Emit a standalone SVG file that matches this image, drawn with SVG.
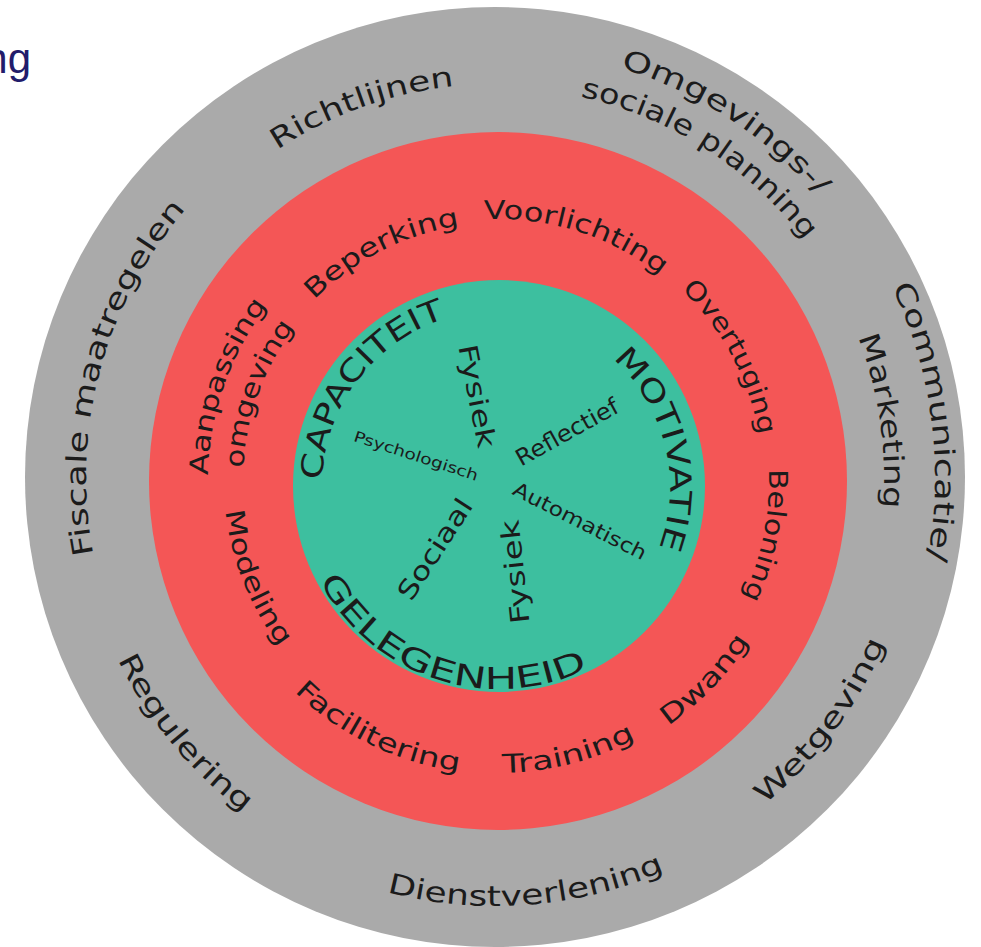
<svg xmlns="http://www.w3.org/2000/svg" width="981" height="947" viewBox="0 0 981 947">
<style>
.t{font-family:"DejaVu Sans","Liberation Sans",sans-serif;fill:#1b1b1b}
.o{font-size:28px}
.r{font-size:26px}
.g{font-size:30px}
.i{dominant-baseline:central;text-anchor:middle}
</style>
<defs>
<path id="pFis" d="M322.15,847.68 A409,409 0 0 1 530.65,69.56"/>
<path id="pRic" d="M107.73,543.89 A393,393 0 0 1 836.03,281.69"/>
<path id="pOmg" d="M181.98,185.10 A428,428 0 0 1 888.97,644.23"/>
<path id="pSoc" d="M207.96,213.02 A390,390 0 0 1 855.05,626.88"/>
<path id="pCom" d="M515.34,37.47 A440,440 0 0 1 626.20,896.98"/>
<path id="pMar" d="M506.88,88.18 A389,389 0 0 1 616.82,846.43"/>
<path id="pWet" d="M303.83,855.46 A424,424 0 0 0 804.08,186.75"/>
<path id="pDie" d="M79.38,583.32 A429,429 0 0 0 921.92,519.24"/>
<path id="pReg" d="M176.39,204.88 A419,419 0 0 0 701.32,841.68"/>
<path id="pAan" d="M356.52,734.15 A290,290 0 0 1 544.37,194.73"/>
<path id="pOmv" d="M370.5,701.84 A255,255 0 0 1 542.28,229.87"/>
<path id="pBep" d="M251.27,556.43 A258,258 0 0 1 704.05,325.73"/>
<path id="pVoo" d="M265.82,359.62 A262,262 0 0 1 757.70,515.65"/>
<path id="pOve" d="M415.67,229.11 A265,265 0 0 1 661.52,689.54"/>
<path id="pBel" d="M597.10,228.77 A271,271 0 0 1 491.14,751.91"/>
<path id="pDwa" d="M331.98,728.47 A298,298 0 0 0 738.64,305.22"/>
<path id="pTra" d="M232.29,602.09 A292,292 0 0 0 789.10,458.09"/>
<path id="pFac" d="M216.14,400.98 A293,293 0 0 0 735.49,652.60"/>
<path id="pMod" d="M353.82,248.01 A274,274 0 0 0 553.80,749.26"/>
<path id="pCap" d="M368.85,606.96 A177,177 0 0 1 580.33,329.79"/>
<path id="pMot" d="M487.67,316.38 A171,171 0 0 1 568.01,643.46"/>
<path id="pGel" d="M298.03,457.40 A203,203 0 0 0 678.07,581.61"/>
</defs>
<rect width="981" height="947" fill="#ffffff"/>
<text x="31" y="73" text-anchor="end" style="font-family:'Liberation Sans',Arial,sans-serif;font-size:42px;fill:#221c6b">ng</text>
<g id="ring-outer">
<circle cx="495" cy="477" r="470" fill="#aaaaaa"/>
</g>
<g id="ring-middle">
<circle cx="498" cy="481" r="349" fill="#f45656"/>
</g>
<g id="ring-inner">
<circle cx="499" cy="486" r="206" fill="#3dbf9f"/>
</g>
<g id="policy-labels" class="t o">
<text id="fiscale"><textPath href="#pFis" startOffset="50%" text-anchor="middle" textLength="370" lengthAdjust="spacingAndGlyphs">Fiscale maatregelen</textPath></text>
<text id="richtlijnen"><textPath href="#pRic" startOffset="50%" text-anchor="middle" textLength="190" lengthAdjust="spacingAndGlyphs">Richtlijnen</textPath></text>
<text id="omgevings"><textPath href="#pOmg" startOffset="50%" text-anchor="middle" textLength="239" lengthAdjust="spacingAndGlyphs">Omgevings-/</textPath></text>
<text id="sociale"><textPath href="#pSoc" startOffset="50%" text-anchor="middle" textLength="272" lengthAdjust="spacingAndGlyphs">sociale planning</textPath></text>
<text id="communicatie"><textPath href="#pCom" startOffset="50%" text-anchor="middle" textLength="280" lengthAdjust="spacingAndGlyphs">Communicatie/</textPath></text>
<text id="marketing"><textPath href="#pMar" startOffset="50%" text-anchor="middle" textLength="174" lengthAdjust="spacingAndGlyphs">Marketing</textPath></text>
<text id="wetgeving"><textPath href="#pWet" startOffset="50%" text-anchor="middle" textLength="204" lengthAdjust="spacingAndGlyphs">Wetgeving</textPath></text>
<text id="dienstverlening"><textPath href="#pDie" startOffset="50%" text-anchor="middle" textLength="284" lengthAdjust="spacingAndGlyphs">Dienstverlening</textPath></text>
<text id="regulering"><textPath href="#pReg" startOffset="50%" text-anchor="middle" textLength="200" lengthAdjust="spacingAndGlyphs">Regulering</textPath></text>
</g>
<g id="intervention-labels" class="t r">
<text id="aanpassing"><textPath href="#pAan" startOffset="50%" text-anchor="middle" textLength="183" lengthAdjust="spacingAndGlyphs">Aanpassing</textPath></text>
<text id="omgeving"><textPath href="#pOmv" startOffset="50%" text-anchor="middle" textLength="152" lengthAdjust="spacingAndGlyphs">omgeving</textPath></text>
<text id="beperking"><textPath href="#pBep" startOffset="50%" text-anchor="middle" textLength="166" lengthAdjust="spacingAndGlyphs">Beperking</textPath></text>
<text id="voorlichting"><textPath href="#pVoo" startOffset="50%" text-anchor="middle" textLength="189" lengthAdjust="spacingAndGlyphs">Voorlichting</textPath></text>
<text id="overtuging"><textPath href="#pOve" startOffset="50%" text-anchor="middle" textLength="168" lengthAdjust="spacingAndGlyphs">Overtuging</textPath></text>
<text id="beloning"><textPath href="#pBel" startOffset="50%" text-anchor="middle" textLength="132" lengthAdjust="spacingAndGlyphs">Beloning</textPath></text>
<text id="dwang"><textPath href="#pDwa" startOffset="50%" text-anchor="middle" textLength="118" lengthAdjust="spacingAndGlyphs">Dwang</textPath></text>
<text id="training"><textPath href="#pTra" startOffset="50%" text-anchor="middle" textLength="139" lengthAdjust="spacingAndGlyphs">Training</textPath></text>
<text id="facilitering"><textPath href="#pFac" startOffset="50%" text-anchor="middle" textLength="186" lengthAdjust="spacingAndGlyphs">Facilitering</textPath></text>
<text id="modeling"><textPath href="#pMod" startOffset="50%" text-anchor="middle" textLength="148" lengthAdjust="spacingAndGlyphs">Modeling</textPath></text>
</g>
<g id="com-b-labels" class="t g">
<text id="capaciteit"><textPath href="#pCap" startOffset="50%" text-anchor="middle" textLength="217" lengthAdjust="spacingAndGlyphs">CAPACITEIT</textPath></text>
<text id="motivatie"><textPath href="#pMot" startOffset="50%" text-anchor="middle" textLength="207" lengthAdjust="spacingAndGlyphs">MOTIVATIE</textPath></text>
<text id="gelegenheid"><textPath href="#pGel" startOffset="50%" text-anchor="middle" textLength="312" lengthAdjust="spacingAndGlyphs">GELEGENHEID</textPath></text>
</g>
<g id="com-b-sub" class="t i">
<text id="fysiek-cap" transform="translate(477,396) rotate(79)" style="font-size:26px" textLength="105" lengthAdjust="spacingAndGlyphs">Fysiek</text>
<text id="psychologisch" transform="translate(416,456) rotate(18)" style="font-size:15px" textLength="130" lengthAdjust="spacingAndGlyphs">Psychologisch</text>
<text id="reflectief" transform="translate(567,432) rotate(-29)" style="font-size:23px" textLength="114" lengthAdjust="spacingAndGlyphs">Reflectief</text>
<text id="automatisch" transform="translate(580,521) rotate(27)" style="font-size:20px" textLength="147" lengthAdjust="spacingAndGlyphs">Automatisch</text>
<text id="sociaal" transform="translate(435,549) rotate(-57)" style="font-size:26px" textLength="115" lengthAdjust="spacingAndGlyphs">Sociaal</text>
<text id="fysiek-gel" transform="translate(515,572) rotate(-96)" style="font-size:26px" textLength="104" lengthAdjust="spacingAndGlyphs">Fysiek</text>
</g>
</svg>
